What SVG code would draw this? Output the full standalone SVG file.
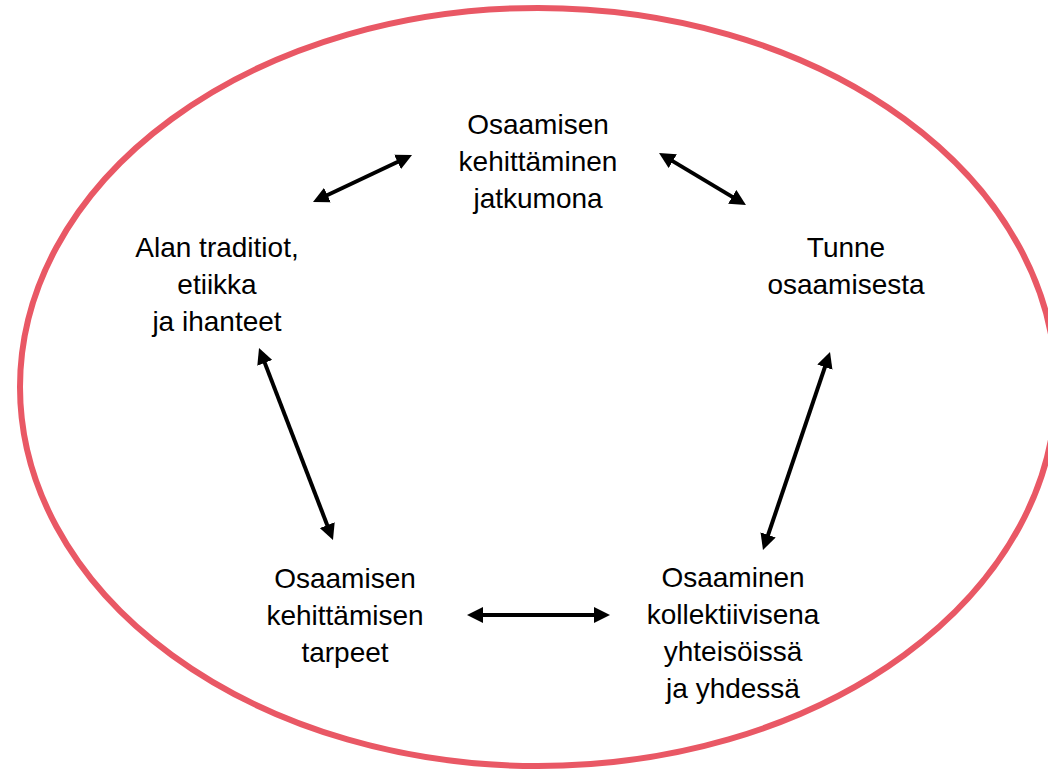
<svg xmlns="http://www.w3.org/2000/svg" width="1048" height="772" viewBox="0 0 1048 772">
<style>
.lbl{font-family:"Liberation Sans",Arial,sans-serif;font-size:28px;fill:#000;text-anchor:middle}
.conn{stroke:#000;stroke-width:4;fill:none;marker-start:url(#ah);marker-end:url(#ah)}
</style>
<defs>
<marker id="ah" viewBox="0 0 10 10" refX="1" refY="5" markerWidth="4" markerHeight="4" orient="auto-start-reverse" markerUnits="strokeWidth">
<path d="M0,0 L10,5 L0,10 z" fill="#000"/>
</marker>
</defs>
<rect width="1048" height="772" fill="#fff"/>
<ellipse id="frame" cx="538" cy="387" rx="518" ry="379" fill="none" stroke="#E95865" stroke-width="6"/>
<g id="connectors">
<line class="conn" x1="326" y1="195.8" x2="399" y2="161.2"/>
<line class="conn" x1="671.4" y1="160.4" x2="733.6" y2="197.6"/>
<line class="conn" x1="264.2" y1="361.4" x2="327.8" y2="526.6"/>
<line class="conn" x1="825.4" y1="365.6" x2="767.6" y2="536.4"/>
<line class="conn" x1="481.4" y1="615" x2="595.6" y2="615"/>
</g>
<g id="node-top">
<text class="lbl" x="538" y="134">Osaamisen</text>
<text class="lbl" x="538" y="171">kehittäminen</text>
<text class="lbl" x="538" y="208">jatkumona</text>
</g>
<g id="node-right">
<text class="lbl" x="846" y="257">Tunne</text>
<text class="lbl" x="846" y="294">osaamisesta</text>
</g>
<g id="node-left">
<text class="lbl" x="217" y="257">Alan traditiot,</text>
<text class="lbl" x="217" y="294">etiikka</text>
<text class="lbl" x="217" y="331">ja ihanteet</text>
</g>
<g id="node-bottom-left">
<text class="lbl" x="345" y="588">Osaamisen</text>
<text class="lbl" x="345" y="625">kehittämisen</text>
<text class="lbl" x="345" y="662">tarpeet</text>
</g>
<g id="node-bottom-right">
<text class="lbl" x="733" y="587">Osaaminen</text>
<text class="lbl" x="733" y="624">kollektiivisena</text>
<text class="lbl" x="733" y="661">yhteisöissä</text>
<text class="lbl" x="733" y="698">ja yhdessä</text>
</g>
</svg>
